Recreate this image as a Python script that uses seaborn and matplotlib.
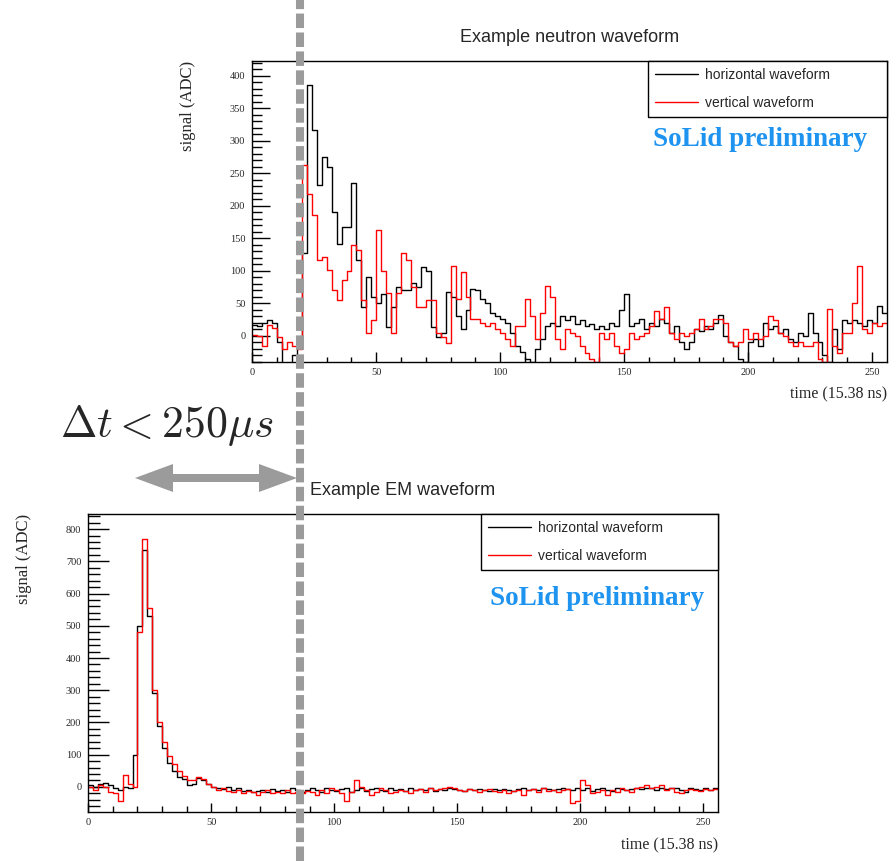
import numpy as np
import pandas as pd
import seaborn as sns
import matplotlib.pyplot as plt
from matplotlib.lines import Line2D
from matplotlib.ticker import MultipleLocator

sns.set_style("white")
plt.rcParams["font.family"] = ["Liberation Sans", "DejaVu Sans"]
plt.rcParams["mathtext.fontset"] = "cm"

# bin start times (units of 15.38 ns), 2 samples per bin
time_bins = np.arange(0, 256, 2)

neutron_horizontal = [
    17, 15, 20, 25, 20, -10, -42, -42, -30, -15, 127, 386, 317, 232, 276, 260,
    190, 142, 168, 168, 235, 117, 45, 91, 60, 50, 65, 14, 45, 76, 70, 71,
    81, 75, 106, 100, 14, -1, 5, 67, 60, 31, 10, 40, 72, 70, 57, 50,
    36, 30, 26, 20, 5, -15, -25, -36, -40, -20, -5, 15, 20, 15, 30, 25,
    31, 18, 25, 15, 18, 10, 15, 10, 20, 15, 40, 64, 15, 20, 26, 10,
    20, 15, 26, 20, 5, 15, -10, -20, -10, 10, 8, 15, 10, 20, 33, 0,
    -10, -15, -36, -40, -10, -5, -15, 20, 10, 15, 5, 10, -5, -10, 5, 0,
    36, 5, -10, -30, -40, 10, -20, 25, 20, 25, 20, 15, 25, 20, 46, 35,
]
neutron_vertical = [
    2, 0, -16, 17, 12, -1, -20, -10, -16, -20, 263, 219, 186, 117, 122, 101,
    71, 56, 86, 100, 140, 132, 56, 5, 25, 163, 100, 66, 5, 66, 127, 117,
    76, 45, 45, 56, 56, 5, -1, -11, 108, 57, 98, 60, 26, 26, 20, 15,
    20, 10, 5, -5, -15, 15, 15, 57, 30, -5, 36, 77, 60, -5, -20, 10,
    5, 0, -15, -26, -36, -40, 5, -5, 5, -15, -26, -20, 5, -5, 0, 5,
    15, 39, 26, 44, 5, -5, 5, 0, 5, 10, 26, 10, 15, 26, 26, 20,
    -10, -15, -10, 10, -5, 5, -5, 0, 31, 25, 5, 0, -10, -15, -10, -15,
    -15, -10, -36, -40, 41, -15, -26, 5, 5, 51, 108, 10, 5, 20, 15, 20,
]
em_horizontal = [
    5, 0, 10, 12, 5, -5, -10, 0, -3, 100, 500, 735, 530, 290, 190, 120,
    75, 50, 30, 25, 5, 10, 28, 20, 8, 0, -5, -8, 0, -10, -5, -12,
    -10, -15, -12, -10, -15, -8, -12, -10, -15, -5, -10, -15, -10, -5, -10, -15,
    -5, -10, -12, -8, -5, -15, -10, -5, -12, -8, -5, -10, -12, -5, -10, -8,
    -12, -5, -10, -8, -10, -5, -12, -8, -10, -5, -8, -10, -12, -6, -10, -8,
    -10, -12, -8, -10, -6, -10, -12, -8, -5, -10, -8, -10, -5, -8, -10, -6,
    -5, -8, -10, -5, -10, -5, -12, -8, -5, -10, -12, -5, -8, -10, -6, -5,
    -8, -3, -5, -10, -5, -8, -5, -3, -10, -15, -5, -8, -10, -5, -10, -5,
]
em_vertical = [
    0, -10, 5, 0, -15, -20, -45, 38, 10, 0, 482, 770, 555, 300, 200, 140,
    95, 70, 50, 35, 20, 20, 32, 25, 10, 0, -10, -5, -12, -15, -10, -20,
    -12, -15, -25, -15, -10, -18, -15, -20, -10, -18, -15, -20, -12, -15, -25, -10,
    -20, -5, -10, -20, -45, -15, 21, 0, -10, -25, -15, -5, -10, -20, -15, -10,
    -12, -20, -10, -8, -15, -5, -10, -8, -5, 0, -5, -10, -12, -8, -10, -15,
    -10, -8, -12, -15, -10, -20, -12, -10, -25, -10, -8, -15, -5, -12, -10, -15,
    -10, -8, -50, -45, 21, 5, -20, -15, -10, -25, -10, -15, -5, -10, -15, -5,
    0, 5, -5, 0, 5, -10, -5, -15, -20, -10, -8, -10, -12, -8, -10, -8,
]

series_labels = ["horizontal waveform", "vertical waveform"]
series_colors = ["black", "red"]
blue = "#1e94f0"
grey = "#9b9b9b"


def draw_waveform(ax, horiz, vert, ylim, ymaj, ymin, ylen, xlen):
    edges = np.append(time_bins, 256)
    for vals, lab, col in zip((horiz, vert), series_labels, series_colors):
        df = pd.DataFrame({"time": edges, "signal": np.append(vals, vals[-1])})
        sns.lineplot(data=df, x="time", y="signal", ax=ax, color=col, label=lab,
                     drawstyle="steps-post", estimator=None, sort=False, linewidth=1.0)
    ax.set_xlim(0, 256)
    ax.set_ylim(*ylim)
    ax.xaxis.set_major_locator(MultipleLocator(50))
    ax.xaxis.set_minor_locator(MultipleLocator(10))
    ax.yaxis.set_major_locator(MultipleLocator(ymaj))
    ax.yaxis.set_minor_locator(MultipleLocator(ymin))
    ax.tick_params(which="both", direction="in", bottom=True, left=True, top=False, right=False,
                   labelsize=7.5, width=1.0, color="black")
    ax.tick_params(axis="y", which="major", length=ylen[0], pad=5)
    ax.tick_params(axis="y", which="minor", length=ylen[1])
    ax.tick_params(axis="x", which="major", length=xlen[0], pad=4)
    ax.tick_params(axis="x", which="minor", length=xlen[1])
    for lab in ax.get_xticklabels() + ax.get_yticklabels():
        lab.set_fontfamily("Liberation Serif")
    for sp in ax.spines.values():
        sp.set_color("black")
        sp.set_linewidth(1.0)
    ax.set_xlabel("time (15.38 ns)", loc="right", fontfamily="Liberation Serif", fontsize=11.5)
    ax.set_ylabel("signal (ADC)", loc="top", fontfamily="Liberation Serif", fontsize=12)
    leg = ax.legend(loc="upper right", bbox_to_anchor=(0.6235, 0, 0.3765, 1), mode="expand",
                    borderaxespad=0, fancybox=False, edgecolor="black", framealpha=1,
                    fontsize=10, handlelength=3.1, handletextpad=0.5, labelspacing=1.0,
                    borderpad=0.5)
    leg.get_frame().set_linewidth(1.0)


fig = plt.figure(figsize=(8.96, 8.61), dpi=100)
ax_n = fig.add_axes([0.2816, 0.5796, 0.7083, 0.3496])
ax_e = fig.add_axes([0.0985, 0.0569, 0.7028, 0.3461])

draw_waveform(ax_n, neutron_horizontal, neutron_vertical, (-40, 423), 50, 10, (13, 7), (7, 3.6))
draw_waveform(ax_e, em_horizontal, em_vertical, (-78, 847), 100, 20, (15, 8.5), (6.5, 4))

ax_n.set_title("Example neutron waveform", fontsize=13, pad=14)
ax_e.set_title("Example EM waveform", loc="left", x=0.352, fontsize=13, pad=14)

ax_n.xaxis.set_label_coords(1.0, -0.08)
ax_e.xaxis.set_label_coords(1.0, -0.084)
ax_n.yaxis.set_label_coords(-0.088, 1.0)
ax_e.yaxis.set_label_coords(-0.09, 1.0)

ax_n.text(0.631, 0.7375, "SoLid preliminary", transform=ax_n.transAxes, color=blue,
          fontfamily="Liberation Serif", fontweight="bold", fontsize=19.5, va="center")
ax_e.text(0.6376, 0.718, "SoLid preliminary", transform=ax_e.transAxes, color=blue,
          fontfamily="Liberation Serif", fontweight="bold", fontsize=19.5, va="center")

# coincidence window annotation
fig.text(60 / 896, 1 - 437 / 861, r"$\Delta t < 250\mu s$", fontsize=31.5, ha="left", va="baseline")
arrow_kw = dict(arrowstyle="simple,head_length=0.95,head_width=0.7,tail_width=0.2",
                color=grey, lw=0, shrinkA=0, shrinkB=0, mutation_scale=28.8)
fig.add_artist(plt.Annotation("", xy=(135, 383), xytext=(216, 383), xycoords="figure pixels",
                              arrowprops=arrow_kw))
fig.add_artist(plt.Annotation("", xy=(297, 383), xytext=(216, 383), xycoords="figure pixels",
                              arrowprops=arrow_kw))

fig.add_artist(Line2D([300 / 896, 300 / 896], [0, 1], transform=fig.transFigure, color=grey,
                      linewidth=5.8, linestyle=(0, (1.8, 0.55)), zorder=10))

fig.savefig("out.png", dpi=100)
